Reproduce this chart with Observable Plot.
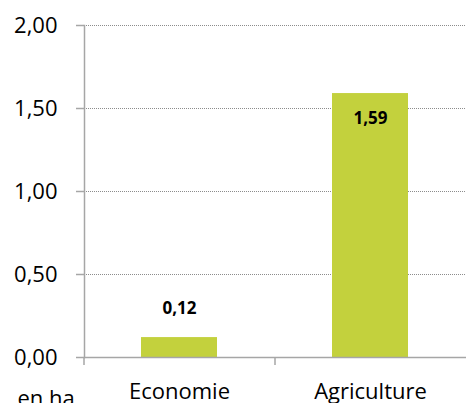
<!DOCTYPE html>
<html><head><meta charset="utf-8">
<script src="https://cdn.jsdelivr.net/npm/d3@7"></script>
<script src="https://cdn.jsdelivr.net/npm/@observablehq/plot@0.6"></script>
<style>html,body{margin:0;padding:0;background:#fff;overflow:hidden}</style>
</head><body><div id="chart"></div>
<script>
const categories = ["Economie", "Agriculture"];
const values = [0.12, 1.59];
const yTicks = [0, 0.5, 1, 1.5, 2];
const unitLabel = "en ha";

const data = categories.map((c, i) => ({cat: c, value: values[i]}));
const fmt = d => d3.format(".2f")(d).replace(".", ",");
const W = 466, H = 403, mL = 84, mR = 0;
const step = (W - mL - mR) / categories.length;
const axisColor = "#a6a6a6";

const chart = Plot.plot({
  width: W, height: H,
  marginLeft: mL, marginRight: mR, marginTop: 25, marginBottom: 46,
  style: {fontFamily: "'Open Sans', sans-serif", fontSize: "22px", color: "#000", background: "#fff", overflow: "visible"},
  x: {domain: categories, paddingInner: 0.6, paddingOuter: 0.3},
  y: {domain: [0, 2]},
  marks: [
    Plot.gridY(yTicks.filter(d => d > 0), {stroke: "#8c8c8c", strokeOpacity: 1, strokeDasharray: "1,1"}),
    Plot.barY(data, {x: "cat", y: "value", fill: "#c3d13d"}),
    Plot.axisY({ticks: yTicks, tickFormat: fmt, tickSize: 8, tickPadding: 19, stroke: axisColor, strokeWidth: 1.5, label: null, fill: "#000"}),
    Plot.axisX({tickSize: 0, tickPadding: 26, label: null, fill: "#000"}),
    Plot.ruleY([0], {stroke: axisColor, strokeWidth: 1.5}),
    Plot.frame({anchor: "left", stroke: axisColor, strokeWidth: 1.5}),
    Plot.ruleX(categories, {x: d => d, y1: 0, y2: 0, insetBottom: -8, dx: -step / 2, stroke: axisColor, strokeWidth: 1.5}),
    Plot.text(data.filter(d => d.value < 0.5), {x: "cat", y: "value", text: d => fmt(d.value), dy: -29, fontWeight: "bold", fontSize: 17, fill: "#000"}),
    Plot.text(data.filter(d => d.value >= 0.5), {x: "cat", y: "value", text: d => fmt(d.value), dy: 24.5, fontWeight: "bold", fontSize: 17, fill: "#000"}),
    Plot.text([unitLabel], {frameAnchor: "bottom-left", text: d => d, dx: -67, dy: 33, textAnchor: "start", lineAnchor: "top", fontSize: 22, fill: "#000"})
  ]
});
document.getElementById("chart").appendChild(chart);
</script>
</body></html>
